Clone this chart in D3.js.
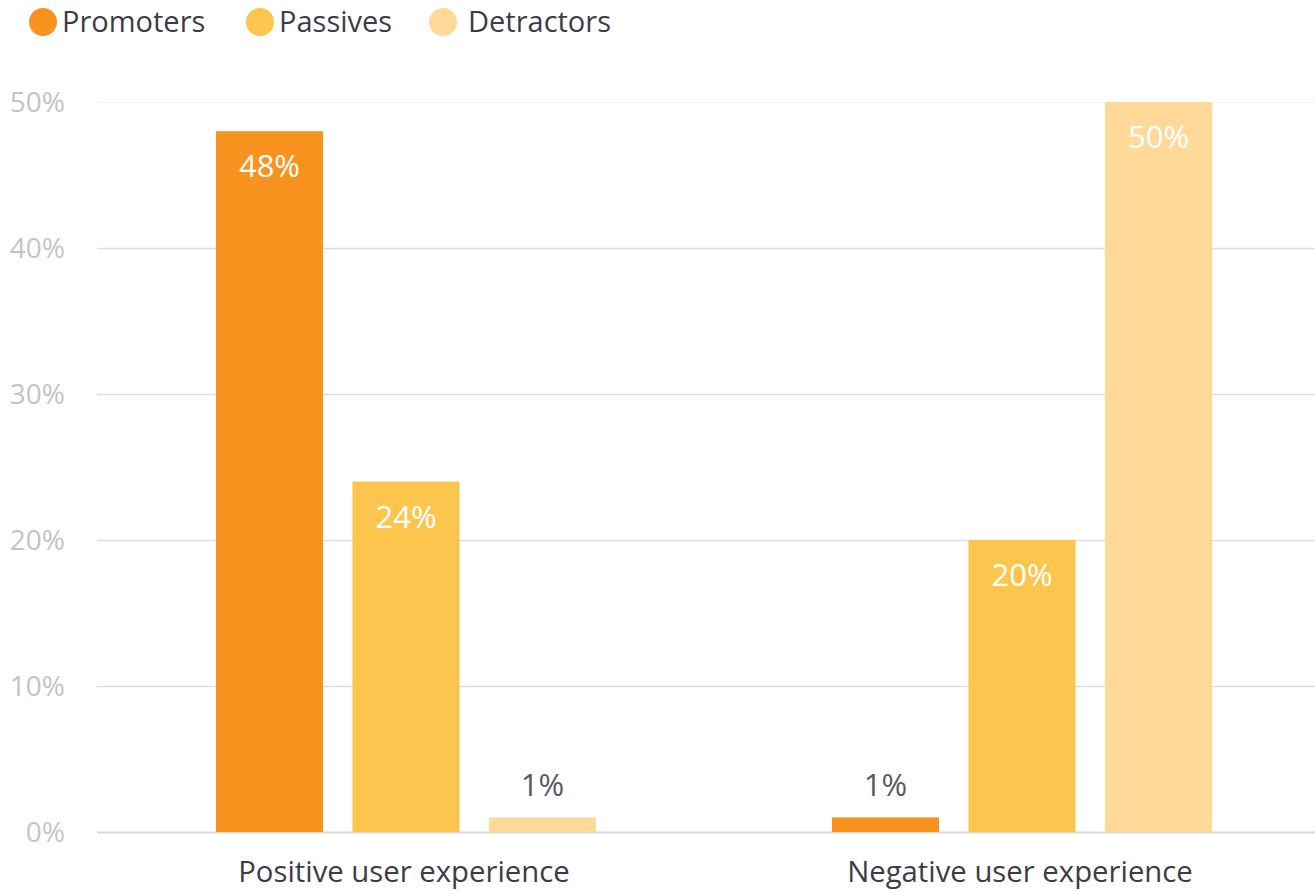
<!DOCTYPE html>
<html>
<head>
<meta charset="utf-8">
<script src="https://cdn.jsdelivr.net/npm/d3@7"></script>
<style>
  body { margin: 0; background: #fff; }
  svg { display: block; font-family: "Open Sans", sans-serif; }
</style>
</head>
<body>
<script>
const categories = ["Positive user experience", "Negative user experience"];
const series = ["Promoters", "Passives", "Detractors"];
const promoters = [48, 1];
const passives = [24, 20];
const detractors = [1, 50];
const yTicks = [0, 10, 20, 30, 40, 50];
const colors = ["#f7931e", "#fcc64e", "#fed998"];

const values = [promoters, passives, detractors];
const data = categories.map((c, i) => ({
  category: c,
  bars: series.map((s, j) => ({ series: s, value: values[j][i], color: colors[j] }))
}));

const width = 1315, height = 891;
const svg = d3.select("body").append("svg")
    .attr("width", width)
    .attr("height", height);

const y = d3.scaleLinear().domain([0, 50]).range([832, 102]);
const x0 = d3.scaleBand().domain(categories).range([98, 1330]);
const x1 = d3.scaleBand().domain(series).range([0, x0.bandwidth()])
    .paddingInner(0.216).paddingOuter(0.864);

// grid
svg.append("g").selectAll("line")
  .data(yTicks)
  .enter().append("line")
    .attr("x1", 97)
    .attr("x2", width)
    .attr("y1", d => y(d) + 0.5)
    .attr("y2", d => y(d) + 0.5)
    .attr("stroke", d => d === 0 ? "#d8d8de" : d === 50 ? "#f3f3f3" : "#dedede")
    .attr("stroke-width", d => d === 0 ? 2 : 1.3);

// y labels
svg.append("g").selectAll("text")
  .data(yTicks)
  .enter().append("text")
    .attr("x", 65)
    .attr("y", d => y(d))
    .attr("dy", "0.36em")
    .attr("text-anchor", "end")
    .attr("fill", "#c4c4c4")
    .style("font-size", "28px")
    .text(d => d + "%");

const groups = svg.append("g").selectAll("g")
  .data(data)
  .enter().append("g")
    .attr("transform", d => `translate(${x0(d.category)},0)`);

groups.selectAll("rect")
  .data(d => d.bars)
  .enter().append("rect")
    .attr("x", d => x1(d.series))
    .attr("y", d => y(d.value))
    .attr("width", x1.bandwidth())
    .attr("height", d => y(0) - y(d.value))
    .attr("fill", d => d.color);

groups.selectAll(".value")
  .data(d => d.bars)
  .enter().append("text")
    .attr("class", "value")
    .attr("x", d => x1(d.series) + x1.bandwidth() / 2)
    .attr("y", d => d.value > 5 ? y(d.value) + 46 : y(d.value) - 21)
    .attr("text-anchor", "middle")
    .attr("fill", d => d.value > 5 ? "#fff" : "#555a66")
    .style("font-size", "31px")
    .text(d => d.value + "%");

// category labels
svg.append("g").selectAll("text")
  .data(categories)
  .enter().append("text")
    .attr("x", d => x0(d) + x0.bandwidth() / 2 - 2)
    .attr("y", 882)
    .attr("text-anchor", "middle")
    .attr("fill", "#3c3c48")
    .style("font-size", "29.3px")
    .text(d => d);

// legend
const legendX = [43, 260, 443];
const legend = svg.append("g").selectAll("g")
  .data(series)
  .enter().append("g")
    .attr("transform", (d, i) => `translate(${legendX[i]},22)`);

legend.append("circle")
    .attr("r", 14)
    .attr("fill", (d, i) => colors[i]);

legend.append("text")
    .attr("x", (d, i) => i === 2 ? 25 : 19)
    .attr("dy", "0.36em")
    .attr("fill", "#3c3c48")
    .style("font-size", "29px")
    .text(d => d);
</script>
</body>
</html>
